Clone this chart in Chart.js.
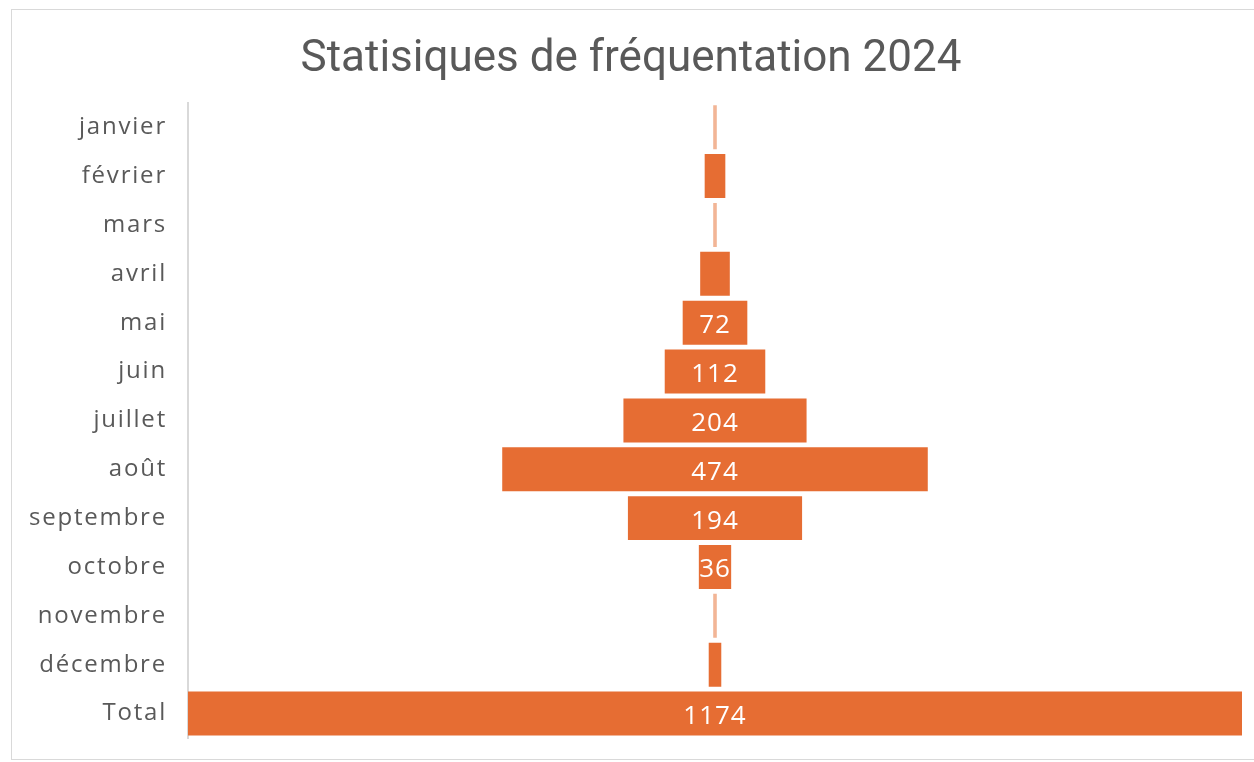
<!DOCTYPE html>
<html>
<head>
<meta charset="utf-8">
<script src="https://cdn.jsdelivr.net/npm/chart.js@4.4.1/dist/chart.umd.min.js"></script>
<style>
  html, body { margin: 0; padding: 0; background: #fff; overflow: hidden; }
  #card { position: absolute; left: 11px; top: 9px; width: 1250px; height: 751px; border: 1px solid #d9d9d9; box-sizing: border-box; }
  #wrap { position: absolute; left: 0; top: 0; width: 1248px; height: 749px; }
</style>
</head>
<body>
<div id="card"><div id="wrap"><canvas id="funnel"></canvas></div></div>
<script>
var months = ['janvier', 'février', 'mars', 'avril', 'mai', 'juin', 'juillet', 'août', 'septembre', 'octobre', 'novembre', 'décembre', 'Total'];
var visits = [4, 23, 4, 33, 72, 112, 204, 474, 194, 36, 4, 14, 1174];
var labelMin = 36;

(function () {
	'use strict';

	var total = Math.max.apply(null, visits);
	var mid = total / 2;
	// funnel: each bar floats around the middle of the axis
	var spans = visits.map(function (v) { return [mid - v / 2, mid + v / 2]; });
	var colors = visits.map(function (v) { return v < 8 ? '#F2B596' : '#E66D33'; });

	var spacing = function (chart) { chart.ctx.letterSpacing = '1.8px'; };
	var barLabels = {
		id: 'barLabels',
		beforeLayout: spacing,
		beforeDraw: spacing,
		afterDatasetsDraw: function (chart) {
			var ctx = chart.ctx;
			var meta = chart.getDatasetMeta(0);
			ctx.save();
			ctx.letterSpacing = '1px';
			ctx.fillStyle = '#ffffff';
			ctx.font = '26px "Open Sans", sans-serif';
			ctx.textAlign = 'center';
			ctx.textBaseline = 'middle';
			meta.data.forEach(function (bar, i) {
				if (visits[i] < labelMin) { return; }
				var p = bar.getProps(['x', 'base', 'y'], true);
				ctx.fillText(String(visits[i]), (p.x + p.base) / 2, p.y + 3);
			});
			ctx.restore();
		}
	};

	var chart = new Chart(document.getElementById('funnel').getContext('2d'), {
		type: 'bar',
		data: {
			labels: months,
			datasets: [{
				data: spans,
				backgroundColor: colors,
				borderWidth: 0,
				borderSkipped: false,
				categoryPercentage: 1,
				barPercentage: 0.9
			}]
		},
		options: {
			indexAxis: 'y',
			responsive: true,
			maintainAspectRatio: false,
			animation: false,
			layout: { padding: { left: 8, right: 18, top: 0, bottom: 21 } },
			plugins: {
				legend: { display: false },
				tooltip: { enabled: false },
				title: {
					display: true,
					text: 'Statisiques de fréquentation 2024',
					color: '#595959',
					font: { family: 'Roboto, sans-serif', size: 44, weight: 'normal' },
					padding: { top: 24, bottom: 16 }
				}
			},
			scales: {
				x: { display: false, min: 0, max: total },
				y: {
					grid: { display: false, drawTicks: false },
					border: { display: true, color: '#d9d9d9', width: 2 },
					ticks: { color: '#595959', padding: 21, font: { family: '"Open Sans", sans-serif', size: 24 } },
					afterFit: function (scale) { scale.width = 168; scale.paddingTop = 0; scale.paddingBottom = 0; }
				}
			}
		},
		plugins: [barLabels]
	});

	// title keeps normal letter spacing
	var drawTitle = chart.titleBlock.draw;
	chart.titleBlock.draw = function () {
		this.ctx.letterSpacing = '0px';
		drawTitle.apply(this, arguments);
		this.ctx.letterSpacing = '1.8px';
	};
	chart.draw();
})();
</script>
</body>
</html>
